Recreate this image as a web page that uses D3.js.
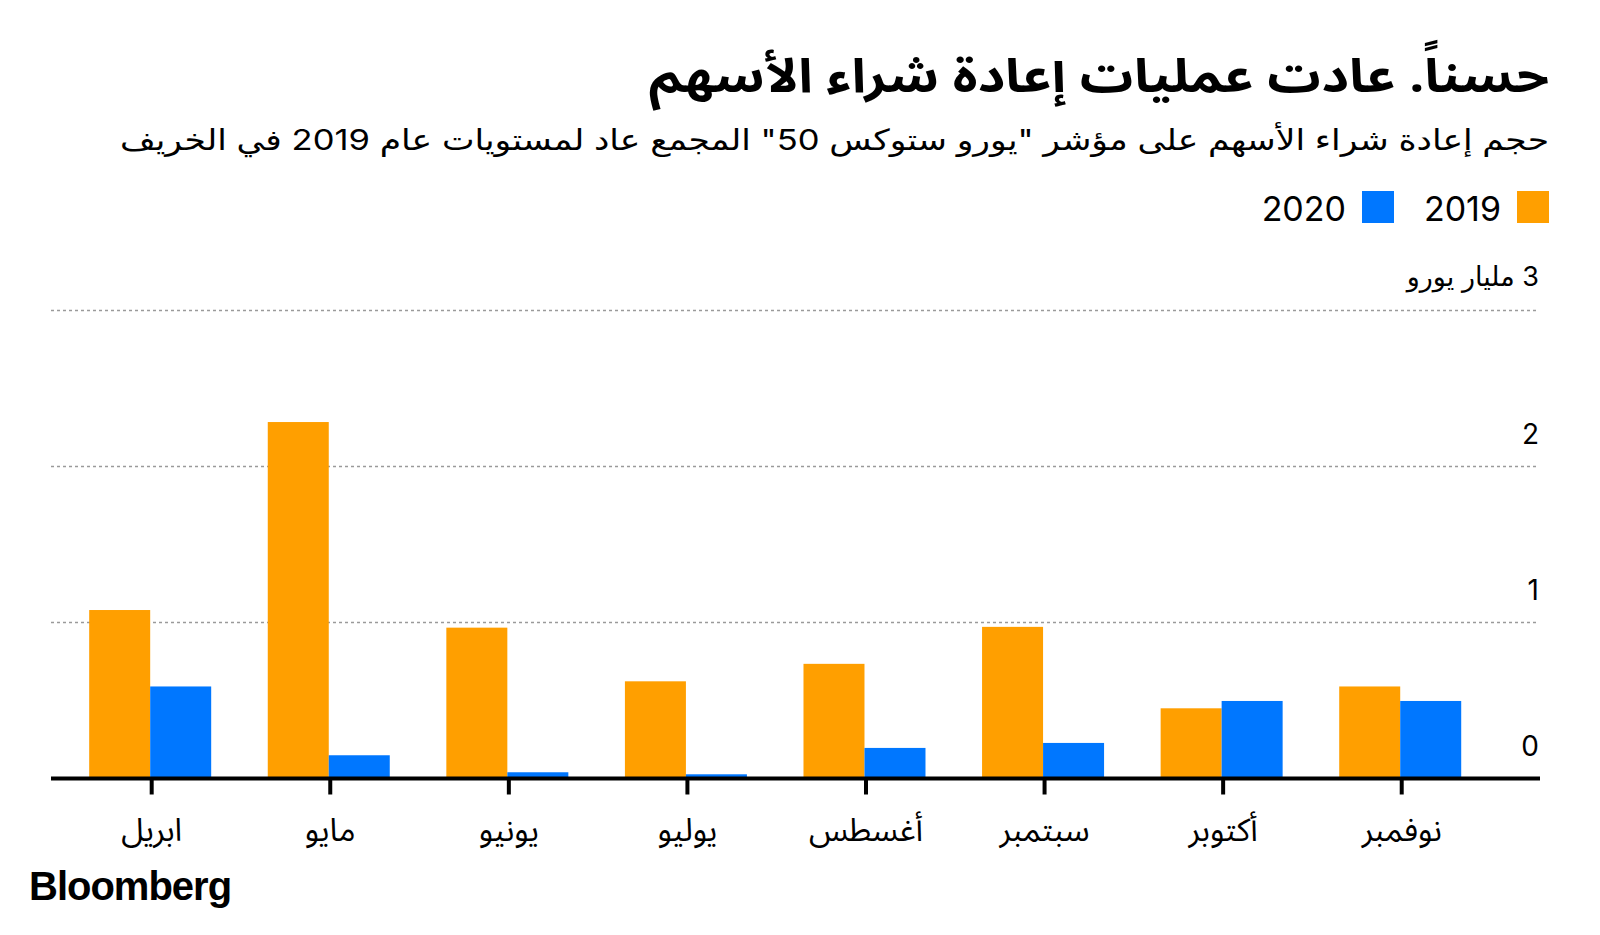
<!DOCTYPE html>
<html>
<head>
<meta charset="utf-8">
<script src="https://cdn.jsdelivr.net/npm/d3@7"></script>
<style>
  html, body { margin: 0; padding: 0; background: #fff; }
  svg { display: block; }
</style>
</head>
<body>
<svg id="chart" width="1600" height="935"></svg>
<script>
const titleText = "حسناً. عادت عمليات إعادة شراء الأسهم";
const subtitleText = 'حجم إعادة شراء الأسهم على مؤشر "يورو ستوكس 50" المجمع عاد لمستويات عام 2019 في الخريف';
const months = ["ابريل", "مايو", "يونيو", "يوليو", "أغسطس", "سبتمبر", "أكتوبر", "نوفمبر"];
const seriesNames = ["2019", "2020"];
const values2019 = [1.08, 2.285, 0.967, 0.623, 0.735, 0.972, 0.45, 0.59];
const values2020 = [0.59, 0.149, 0.04, 0.027, 0.196, 0.228, 0.497, 0.497];
const yTicks = [0, 1, 2, 3];
const yTopLabel = "3 مليار يورو";
const colors = ["#ff9f00", "#0077ff"];

const svg = d3.select("#chart");
const arabicFont = "'Noto Sans Arabic', 'DejaVu Sans', sans-serif";
const mixedFont = "Inter, 'DejaVu Sans', sans-serif";

// Title
svg.append("text")
  .attr("x", 1549).attr("y", 92)
  .attr("direction", "rtl").style("direction", "rtl")
  .attr("text-anchor", "start")
  .attr("font-family", arabicFont)
  .attr("font-weight", "bold")
  .attr("font-size", 47)
  .attr("textLength", 900).attr("lengthAdjust", "spacingAndGlyphs")
  .attr("fill", "#000")
  .text(titleText);

// Subtitle
svg.append("text")
  .attr("x", 1549).attr("y", 150)
  .attr("direction", "rtl").style("direction", "rtl")
  .attr("text-anchor", "start")
  .attr("font-family", mixedFont)
  .attr("font-size", 29)
  .attr("textLength", 1429).attr("lengthAdjust", "spacingAndGlyphs")
  .attr("fill", "#000")
  .text(subtitleText);

// Legend
const legendItems = [
  { name: seriesNames[0], color: colors[0], sqX: 1517, textX: 1501 },
  { name: seriesNames[1], color: colors[1], sqX: 1362, textX: 1346 }
];
const lg = svg.append("g");
legendItems.forEach(d => {
  lg.append("rect").attr("x", d.sqX).attr("y", 191).attr("width", 32).attr("height", 32).attr("fill", d.color);
  lg.append("text").attr("x", d.textX).attr("y", 221)
    .attr("text-anchor", "end")
    .attr("font-family", mixedFont).attr("font-size", 34).attr("fill", "#000")
    .text(d.name);
});

// Scales
const x0 = d3.scaleBand().domain(months).range([62.4, 1491]).padding(0);
const groupW = 122;
const x1 = d3.scaleBand().domain(seriesNames).range([0, groupW]).padding(0);
const y = d3.scaleLinear().domain([0, 3]).range([778.5, 310.5]);

// Gridlines
const grid = svg.append("g");
yTicks.filter(t => t > 0).forEach(t => {
  grid.append("line")
    .attr("x1", 51).attr("x2", 1539)
    .attr("y1", y(t)).attr("y2", y(t))
    .attr("stroke", "#9a9a9a").attr("stroke-width", 1.5)
    .attr("stroke-dasharray", "3,3");
});

// Y labels
const yl = svg.append("g");
yTicks.forEach(t => {
  if (t === 3) {
    yl.append("text").attr("x", 1539).attr("y", y(t) - 25)
      .attr("direction", "rtl").style("direction", "rtl")
      .attr("text-anchor", "start")
      .attr("font-family", mixedFont).attr("font-size", 27).attr("fill", "#000")
      .text(yTopLabel);
  } else {
    yl.append("text").attr("x", 1539).attr("y", y(t) - 23)
      .attr("text-anchor", "end")
      .attr("font-family", mixedFont).attr("font-size", 28).attr("fill", "#000")
      .text(String(t));
  }
});

// Bars
const data = months.map((m, i) => ({ month: m, vals: [values2019[i], values2020[i]] }));
const groups = svg.append("g").selectAll("g").data(data).join("g")
  .attr("transform", d => `translate(${x0(d.month) + (x0.bandwidth() - groupW) / 2 - 1.5},0)`);
groups.selectAll("rect")
  .data(d => d.vals.map((v, j) => ({ key: seriesNames[j], v, c: colors[j] })))
  .join("rect")
  .attr("x", d => x1(d.key))
  .attr("width", x1.bandwidth())
  .attr("y", d => y(d.v))
  .attr("height", d => y(0) - y(d.v))
  .attr("fill", d => d.c);

// X axis
const axisG = svg.append("g").attr("transform", `translate(0,${y(0)})`);
axisG.call(d3.axisBottom(x0).tickSize(16).tickPadding(18).tickSizeOuter(0));
axisG.select(".domain").remove();
axisG.selectAll(".tick line").attr("stroke", "#000").attr("stroke-width", 4);
axisG.selectAll(".tick text")
  .attr("font-family", arabicFont).attr("font-size", 32).attr("fill", "#000")
  .attr("dy", "0.9em");
axisG.append("line").attr("x1", 51).attr("x2", 1540).attr("y1", 0).attr("y2", 0)
  .attr("stroke", "#000").attr("stroke-width", 4);

// Logo
svg.append("text").attr("x", 29).attr("y", 900)
  .attr("font-family", "'Liberation Sans', Arial, sans-serif")
  .attr("font-weight", "bold").attr("font-size", 40)
  .attr("letter-spacing", -1)
  .attr("fill", "#000")
  .text("Bloomberg");
</script>
</body>
</html>
